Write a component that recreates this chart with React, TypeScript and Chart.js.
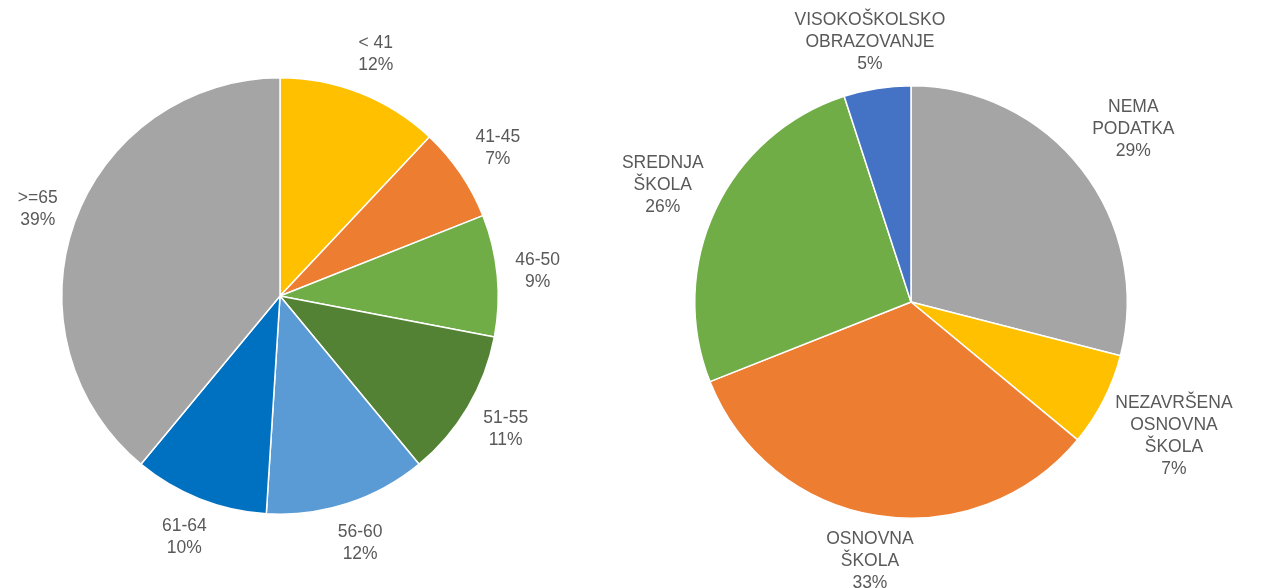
import React, { useEffect, useRef } from "react";
import { Chart, registerables } from "chart.js";

Chart.register(...registerables);

const ageLabels = ["< 41", "41-45", "46-50", "51-55", "56-60", "61-64", ">=65"];
const ageValues = [12, 7, 9, 11, 12, 10, 39];
const ageColors = ["#FFC000", "#ED7D31", "#70AD47", "#548235", "#5B9BD5", "#0070C0", "#A5A5A5"];

const eduLabels = [
  ["NEMA", "PODATKA"],
  ["NEZAVRŠENA", "OSNOVNA", "ŠKOLA"],
  ["OSNOVNA", "ŠKOLA"],
  ["SREDNJA", "ŠKOLA"],
  ["VISOKOŠKOLSKO", "OBRAZOVANJE"],
];
const eduValues = [29, 7, 33, 26, 5];
const eduColors = ["#A5A5A5", "#FFC000", "#ED7D31", "#70AD47", "#4472C4"];

const FONT = '17.5px "Liberation Sans", Arial, sans-serif';
const LINE_H = 22;

function makeLabelPlugin(gap: number) {
  return {
    id: "outLabels",
    afterDraw(chart: any) {
      const ctx = chart.ctx;
      const meta = chart.getDatasetMeta(0);
      const labels = chart.data.labels;
      const values = chart.data.datasets[0].data;
      ctx.save();
      ctx.font = FONT;
      ctx.fillStyle = "#595959";
      ctx.textAlign = "center";
      ctx.textBaseline = "middle";
      meta.data.forEach((arc: any, i: number) => {
        const p = arc.getProps(["x", "y", "startAngle", "endAngle", "outerRadius"], true);
        const mid = (p.startAngle + p.endAngle) / 2;
        const raw = labels[i];
        const lines: string[] = (Array.isArray(raw) ? raw.slice() : [raw]);
        lines.push(values[i] + "%");
        let w = 0;
        lines.forEach((l) => { w = Math.max(w, ctx.measureText(l).width); });
        const h = lines.length * LINE_H;
        const cx = Math.cos(mid), cy = Math.sin(mid);
        const ex = Math.abs(cx) > 1e-6 ? (w / 2) / Math.abs(cx) : Infinity;
        const ey = Math.abs(cy) > 1e-6 ? (h / 2) / Math.abs(cy) : Infinity;
        const d = p.outerRadius + gap + Math.min(ex, ey);
        const x = p.x + cx * d;
        const y = p.y + cy * d;
        lines.forEach((l, k) => {
          ctx.fillText(l, x, y - h / 2 + LINE_H / 2 + k * LINE_H);
        });
      });
      ctx.restore();
    },
  };
}

function PieChart(props: {
  labels: any[];
  values: number[];
  colors: string[];
  left: number;
  width: number;
  padding: { left: number; right: number; top: number; bottom: number };
  gap: number;
}) {
  const ref = useRef<HTMLCanvasElement | null>(null);
  useEffect(() => {
    if (!ref.current) return;
    const chart = new Chart(ref.current, {
      type: "pie",
      data: {
        labels: props.labels,
        datasets: [
          {
            data: props.values,
            backgroundColor: props.colors,
            borderColor: "#ffffff",
            borderWidth: 1.5,
          },
        ],
      },
      options: {
        animation: false,
        responsive: false,
        maintainAspectRatio: false,
        layout: { padding: props.padding },
        plugins: {
          legend: { display: false },
          tooltip: { enabled: false },
        },
      },
      plugins: [makeLabelPlugin(props.gap)],
    });
    return () => chart.destroy();
  }, []);
  return (
    <canvas
      ref={ref}
      width={props.width}
      height={588}
      style={{ position: "absolute", left: props.left, top: 0, width: props.width, height: 588 }}
    />
  );
}

export default function App() {
  useEffect(() => {
    document.body.style.margin = "0";
  }, []);
  return (
    <div style={{ position: "relative", width: 1261, height: 588, background: "#fff", overflow: "hidden" }}>
      <PieChart
        labels={ageLabels}
        values={ageValues}
        colors={ageColors}
        left={0}
        width={580}
        padding={{ left: 61, right: 81, top: 77, bottom: 73 }}
        gap={18}
      />
      <PieChart
        labels={eduLabels}
        values={eduValues}
        colors={eduColors}
        left={580}
        width={681}
        padding={{ left: 114, right: 133, top: 85, bottom: 69 }}
        gap={13}
      />
    </div>
  );
}
